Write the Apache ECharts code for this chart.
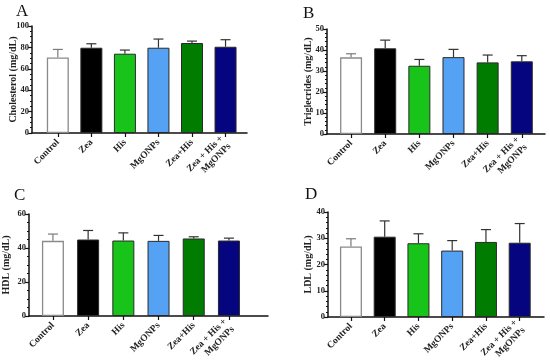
<!DOCTYPE html>
<html><head><meta charset="utf-8">
<script src="https://cdn.jsdelivr.net/npm/echarts@6/dist/echarts.min.js"></script>
<style>html,body{margin:0;padding:0;background:#fff}#c{width:550px;height:362px}</style>
</head><body><div id="c"></div>
<script>
const categories = ['Control', 'Zea', 'His', 'MgONPs', 'Zea+His', 'Zea + His +\nMgONPs'];
const barColors = ['#ffffff', '#000000', '#19c41a', '#55a2f5', '#007d00', '#050580'];

const cholMean = [70.6, 79.7, 74.1, 79.7, 84.1, 80.6];
const cholUpper = [78.1, 83.4, 77.5, 87.8, 85.9, 87.2];
const trigMean = [36.5, 40.8, 32.5, 36.6, 34.1, 34.6];
const trigUpper = [38.2, 44.7, 35.5, 40.3, 37.6, 37.3];
const hdlMean = [44.2, 45.0, 44.4, 44.2, 45.6, 44.4];
const hdlUpper = [48.2, 50.3, 48.9, 47.4, 46.6, 45.8];
const ldlMean = [26.9, 30.6, 28.1, 25.3, 28.6, 28.3];
const ldlUpper = [29.8, 36.6, 31.7, 29.1, 33.3, 35.6];

const yNames = ['Cholesterol (mg/dL)', 'Triglecrides (mg/dL)', 'HDL (mg/dL)', 'LDL (mg/dL)'];
const yMax = [100, 50, 60, 40];
const yInterval = [20, 10, 20, 10];
const yMinorSplit = [4, 5, 4, 5];
const panelLetters = ['A', 'B', 'C', 'D'];

const means = [cholMean, trigMean, hdlMean, ldlMean];
const uppers = [cholUpper, trigUpper, hdlUpper, ldlUpper];

const grids = [
  {left: 32, right: 303, top: 26, bottom: 229},
  {left: 327, right: 5, top: 29, bottom: 228},
  {left: 29, right: 282, top: 214, bottom: 46},
  {left: 328, right: 6, top: 212, bottom: 45}
];
const xRange = [[-0.77, 5.64], [-0.705, 5.68], [-0.68, 6.11], [-0.68, 5.72]];
const letterPos = [[11, -2], [298, 0], [9, 182], [300, 181]];
const nameGaps = [14, 14, 18, 15];

const font = 'Liberation Serif, Times New Roman, serif';
const idx = categories.map((c, i) => i);

const option = {
  animation: false,
  backgroundColor: '#fff',
  grid: grids.map(g => Object.assign({containLabel: false, outerBoundsMode: 'none'}, g)),
  title: panelLetters.map((t, i) => ({
    text: t, left: letterPos[i][0], top: letterPos[i][1],
    textStyle: {fontFamily: font, fontWeight: 'normal', fontSize: 17, color: '#111'}
  })),
  xAxis: grids.map((g, i) => ({
    type: 'value', gridIndex: i, min: xRange[i][0], max: xRange[i][1],
    splitLine: {show: false},
    axisLine: {show: true, onZero: false, lineStyle: {color: '#111', width: 1.5}},
    axisTick: {show: true, customValues: idx, length: 4, lineStyle: {color: '#111', width: 1.2}},
    axisLabel: {
      show: true, customValues: idx, rotate: 45, margin: 8,
      formatter: v => categories[Math.round(v)] || '',
      fontFamily: font, fontWeight: 'bold', fontSize: 9.5, color: '#222', lineHeight: 11, align: 'right'
    }
  })),
  yAxis: grids.map((g, i) => ({
    type: 'value', gridIndex: i, min: 0, max: yMax[i], interval: yInterval[i],
    splitLine: {show: false},
    axisLine: {show: true, onZero: false, lineStyle: {color: '#111', width: 1.5}},
    axisTick: {show: true, length: 4, lineStyle: {color: '#111', width: 1.2}},
    minorTick: {show: true, splitNumber: yMinorSplit[i], length: 2, lineStyle: {color: '#111', width: 1}},
    axisLabel: {fontFamily: font, fontWeight: 'bold', fontSize: 8.5, color: '#222', margin: 3},
    name: yNames[i], nameLocation: 'middle', nameGap: nameGaps[i], nameMoveOverlap: false,
    nameTextStyle: {fontFamily: font, fontWeight: 'bold', fontSize: 10, color: '#222'}
  })),
  series: []
};

means.forEach((m, i) => {
  option.series.push({
    type: 'bar', xAxisIndex: i, yAxisIndex: i, barWidth: 22, z: 2,
    data: m.map((v, k) => ({
      value: [k, v],
      itemStyle: {color: barColors[k], borderColor: k === 0 ? '#8a8a8a' : '#2a2a2a', borderWidth: k === 0 ? 1.3 : 1}
    }))
  });
  option.series.push({
    type: 'custom', xAxisIndex: i, yAxisIndex: i, z: 3,
    data: m.map((v, k) => [k, v, uppers[i][k]]),
    renderItem: (params, api) => {
      const x = api.value(0);
      const p0 = api.coord([x, api.value(1)]);
      const p1 = api.coord([x, api.value(2)]);
      const col = x === 0 ? '#7a7a7a' : '#333';
      return {type: 'group', children: [
        {type: 'line', shape: {x1: p0[0], y1: p0[1], x2: p1[0], y2: p1[1]}, style: {stroke: col, lineWidth: 1.2}},
        {type: 'line', shape: {x1: p1[0] - 5, y1: p1[1], x2: p1[0] + 5, y2: p1[1]}, style: {stroke: col, lineWidth: 1.2}}
      ]};
    }
  });
});

const chart = echarts.init(document.getElementById('c'), null, {renderer: 'canvas'});
chart.setOption(option);
</script></body></html>
